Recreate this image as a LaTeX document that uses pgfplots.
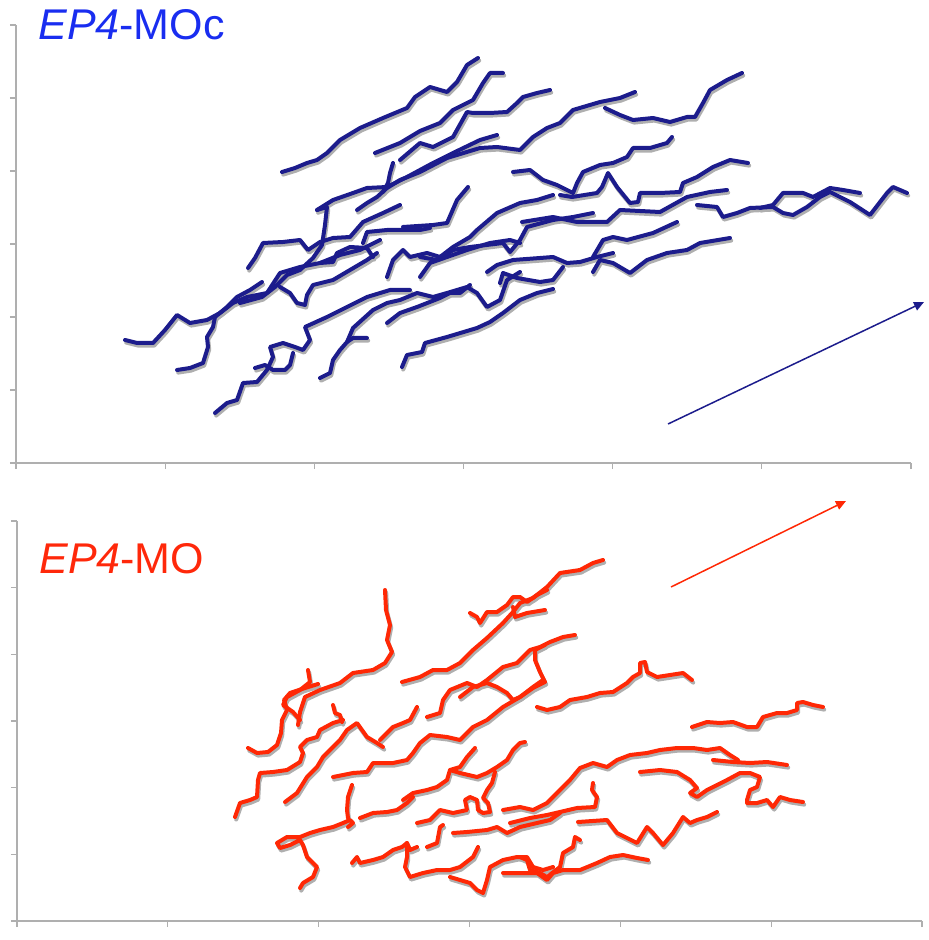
\documentclass[border=0pt]{standalone}
\usepackage{pgfplots}
\pgfplotsset{compat=1.18}
\usepackage{fontspec}
\newfontfamily\arial{Liberation Sans}
\usetikzlibrary{arrows.meta}
\definecolor{trkblue}{RGB}{28,28,140}
\definecolor{ttlblue}{RGB}{25,45,240}
\definecolor{trkred}{RGB}{255,40,5}
\definecolor{ttlred}{RGB}{255,40,10}
\definecolor{axgray}{RGB}{175,175,175}
\definecolor{shgray}{RGB}{175,175,175}

\newcommand\bluetracks{%
\trk{(282,172)(295,168)(307,163)(317,160)(327,153)(340,140)(360,128)(383,118)(407,108)(415,97)(430,87)(447,92)(457,82)(467,65)(478,58)}%
\trk{(375,153)(400,143)(420,131)(440,123)(453,110)(473,100)(483,83)(490,73)(503,73)}%
\trk{(400,160)(420,143)(433,147)(453,137)(467,112)(473,113)(490,113)(507,112)(517,103)(523,97)(537,93)(550,90)}%
\trk{(317,210)(333,200)(353,193)(367,188)(387,187)(407,177)(433,163)(453,153)(480,140)(497,135)}%
\trk{(357,210)(367,203)(377,197)(387,188)(400,180)(420,172)(447,158)(480,148)(497,147)(520,150)(533,137)(547,128)(560,123)(573,110)(600,102)(620,98)(635,92)}%
\trk{(383,192)(388,183)(390,173)(393,163)}%
\trk{(605,108)(620,115)(633,120)(653,118)(670,122)(687,117)(695,117)(703,103)(710,90)(727,80)(742,73)}%
\trk{(513,172)(530,170)(543,180)(557,185)(567,190)(573,193)(577,183)(583,172)(600,165)(613,163)(627,157)(633,148)(650,148)(667,143)(672,137)}%
\trk{(560,195)(572,197)(597,193)(602,187)(608,173)(617,187)(630,203)(638,202)(640,193)(660,193)(680,192)(683,183)(697,177)(713,167)(730,160)(748,163)}%
\trk{(697,205)(717,207)(723,217)(737,213)(750,208)(773,207)(783,213)(793,215)(807,207)(820,197)(830,192)(850,202)(870,215)(887,193)(893,187)(907,193)}%
\trk{(760,208)(773,205)(783,193)(803,193)(813,197)(830,188)(843,190)(860,193)}%
\trk{(403,227)(433,225)(447,223)(457,200)(468,187)}%
\trk{(420,257)(437,260)(453,250)(470,247)(503,243)(510,252)(520,240)(527,227)(553,220)(573,217)(593,213)}%
\trk{(440,257)(453,247)(470,237)(477,230)(497,213)(520,203)(537,200)(553,195)}%
\trk{(522,222)(553,217)(577,222)(607,222)(620,210)(660,212)(687,197)(710,192)(727,190)}%
\trk{(487,272)(497,265)(513,260)(540,258)(553,257)(567,263)(580,262)(597,257)(613,253)}%
\trk{(500,283)(503,273)(517,278)(540,282)(553,280)(563,267)}%
\trk{(593,272)(600,260)(613,263)(630,273)(647,260)(667,253)(687,250)(700,243)(730,238)}%
\trk{(593,257)(603,240)(613,237)(627,240)(653,233)(677,222)}%
\trk{(402,367)(407,355)(422,352)(425,343)(447,337)(477,328)(490,322)(503,313)(520,300)(537,293)(553,289)}%
\trk{(125,340)(137,343)(153,343)(165,330)(177,315)(190,323)(207,320)(220,313)(233,303)(247,297)(267,293)(280,273)(300,267)(320,263)(340,255)(360,250)(380,240)}%
\trk{(177,370)(190,368)(203,363)(208,347)(207,337)(213,327)(215,317)(227,307)(237,297)(250,290)(262,282)}%
\trk{(215,413)(227,403)(237,400)(243,383)(257,382)(267,370)(273,357)(270,347)(283,343)(295,347)(303,350)(310,340)(305,327)(327,317)(347,307)(367,297)(390,290)(410,290)}%
\trk{(293,353)(290,365)(285,370)(273,370)(265,365)(255,368)}%
\trk{(320,378)(330,373)(333,360)(340,350)(347,342)(353,328)(373,310)(387,303)(400,300)(417,293)(433,297)(447,293)(467,287)(477,293)(487,307)(500,300)(507,280)(520,272)}%
\trk{(347,342)(353,338)(367,338)}%
\trk{(387,323)(400,313)(417,307)(440,298)(450,293)(460,293)(470,285)}%
\trk{(248,268)(255,258)(263,243)(283,242)(300,240)(308,250)(320,242)(333,238)(350,237)(363,222)(383,213)(400,205)}%
\trk{(317,210)(327,207)(325,225)(322,245)(313,258)(300,270)(287,275)(275,287)(262,297)(240,303)}%
\trk{(280,287)(290,293)(297,303)(305,305)(307,295)(313,285)(333,280)(350,270)(367,260)(377,253)}%
\trk{(320,263)(333,262)(337,253)(350,247)(367,248)(373,257)}%
\trk{(420,277)(430,263)(447,257)(467,250)(490,243)(510,240)(520,243)}%
\trk{(387,277)(393,260)(403,250)(410,257)(427,253)(440,257)(453,250)}%
\trk{(363,243)(367,232)(387,230)(407,230)(420,230)(430,228)}%
}

\newcommand\redtracks{%
\trk{(385,590)(386,610)(390,625)(387,640)(392,652)(385,663)(373,670)(353,673)(340,683)(320,690)(305,697)(300,712)(298,725)}%
\trk{(308,670)(310,682)(300,690)(287,697)(283,705)(293,712)(300,720)}%
\trk{(248,748)(257,753)(268,752)(277,745)(281,733)(282,720)(287,710)(284,700)(290,693)(305,688)(318,684)}%
\trk{(235,817)(240,803)(250,800)(257,797)(258,780)(260,773)(273,772)(287,770)(300,762)(303,753)(300,747)(307,740)(317,737)(320,730)(333,723)(343,720)}%
\trk{(333,705)(335,713)(340,715)(342,722)}%
\trk{(285,802)(297,793)(307,777)(317,767)(323,757)(330,750)(340,740)(347,730)(357,723)(367,737)(377,743)(383,747)}%
\trk{(380,740)(393,727)(403,723)(410,720)(417,707)}%
\trk{(333,777)(353,773)(367,772)(373,763)(393,763)(407,760)(413,753)(420,743)(430,735)(447,737)(460,740)(467,733)(473,727)(487,720)(503,707)(520,697)(533,687)(543,680)}%
\trk{(402,682)(420,677)(433,670)(447,670)(460,663)(473,650)(487,638)(503,623)(513,612)(520,603)(533,598)(547,587)(560,573)(580,570)(593,563)(603,560)}%
\trk{(470,613)(477,617)(480,623)(487,612)(497,612)(507,605)(513,597)(520,597)(527,602)(537,595)(547,590)}%
\trk{(513,607)(515,617)(527,613)(545,610)}%
\trk{(427,717)(440,713)(443,700)(450,690)(467,683)(477,687)(487,680)(503,667)(517,663)(530,650)(540,647)(550,642)(563,637)(575,635)}%
\trk{(460,697)(473,687)(487,683)(497,687)(507,693)(513,700)(520,697)(533,688)(545,682)(540,672)(535,660)(535,650)(545,645)}%
\trk{(403,800)(413,793)(427,790)(437,787)(447,780)(450,770)(460,767)(467,757)(475,748)}%
\trk{(450,770)(460,773)(477,777)(487,773)(497,767)(507,760)(513,750)(520,743)(525,742)}%
\trk{(417,823)(430,820)(440,810)(453,813)(467,810)(465,800)(470,797)(477,800)(478,810)(483,813)(490,812)(488,803)(483,798)(487,790)(492,783)(495,772)}%
\trk{(360,818)(373,813)(387,812)(397,810)(407,803)(413,797)}%
\trk{(300,888)(303,883)(313,877)(317,867)(307,857)(303,845)(300,840)(290,845)(280,848)(277,843)(287,837)(300,837)(310,833)(320,830)(333,827)(343,823)(350,820)(353,823)(348,827)}%
\trk{(348,818)(347,810)(348,797)(352,785)}%
\trk{(352,863)(357,857)(360,863)(373,860)(383,857)(393,850)(402,847)(407,843)(410,850)(417,847)}%
\trk{(407,843)(407,857)(405,867)(410,877)(423,873)(437,870)(450,870)(460,867)(473,857)(478,847)}%
\trk{(427,847)(437,843)(440,827)(443,825)}%
\trk{(450,877)(460,880)(470,883)(477,890)(483,893)(487,880)(490,867)(503,860)(517,857)(527,857)(533,867)(543,870)(553,867)}%
\trk{(503,873)(520,873)(537,873)(547,880)(553,873)(563,870)(580,870)(597,863)(610,857)(623,855)(637,858)(648,860)}%
\trk{(537,707)(547,710)(560,707)(570,700)(587,697)(600,693)(613,692)(627,683)(633,677)(640,673)(640,663)(645,662)(647,672)(657,677)(670,675)(683,673)(692,680)}%
\trk{(692,727)(707,722)(720,723)(733,722)(747,727)(757,727)(763,717)(777,713)(787,713)(797,710)(797,703)(803,702)(813,705)(823,707)}%
\trk{(503,810)(520,807)(533,810)(547,803)(557,793)(570,780)(580,768)(593,763)(607,767)(617,760)(630,755)(647,753)(660,750)(677,748)(693,748)(707,750)(720,748)(730,755)(738,760)}%
\trk{(640,772)(660,770)(677,772)(690,780)(697,788)(690,793)(697,797)(707,790)(717,785)(727,780)(740,773)(750,773)(760,777)(757,787)(750,790)(747,800)(747,803)(757,803)(767,800)(773,807)(780,797)(790,800)(803,802)}%
\trk{(713,760)(733,762)(750,763)(767,762)(787,765)}%
\trk{(578,822)(607,820)(617,833)(637,843)(647,827)(653,833)(663,845)(673,833)(683,817)(690,823)(697,820)(707,817)(717,812)}%
\trk{(510,823)(530,818)(547,815)(577,808)(595,807)(597,797)(592,790)(593,783)}%
\trk{(520,857)(527,860)(530,870)(540,873)(547,877)(560,867)(563,853)(573,847)(575,837)(580,840)}%
\trk{(453,833)(467,832)(487,830)(497,827)(507,833)(520,827)(537,823)(550,820)(560,813)}%
}

\pgfplotsset{
  panel/.style={scale only axis, anchor=south west,
    y filter/.expression={-y},
    axis x line=bottom, axis y line=left,
    axis line style={-, draw=axgray, line width=0.75pt},
    tick style={draw=axgray, line width=0.6pt},
    tick align=outside, major tick length=3pt,
    xticklabels={}, yticklabels={}, clip=false},
  shadowsty/.style={draw=shgray, line width=2pt, line join=round, line cap=round, mark=none, xshift=0.6pt, yshift=-1.3pt},
  trksty/.style={line width=2pt, line join=round, line cap=round, mark=none},
}

\begin{document}
\begin{tikzpicture}
\useasboundingbox (0,0) rectangle (464.5pt,-470pt);
\begin{axis}[panel, at={(8pt,-231.5pt)}, width=447.5pt, height=219pt,
  xmin=16, xmax=911, ymin=-463, ymax=-25,
  xtick={16,165.2,314.3,463.5,612.7,761.8,911},
  ytick={-463,-390,-317,-244,-171,-98,-25}]
\def\trk#1{\addplot[shadowsty] coordinates {#1};}
\bluetracks
\def\trk#1{\addplot[trksty, draw=trkblue] coordinates {#1};}
\bluetracks
\addplot[draw=trkblue, line width=0.75pt, mark=none, -{Triangle[length=5pt,width=4.5pt]}] coordinates {(668,424)(924,302)};
\end{axis}
\begin{axis}[panel, at={(8.5pt,-460.5pt)}, width=452.5pt, height=200pt,
  xmin=17, xmax=922, ymin=-921, ymax=-521,
  xtick={17,167.8,318.7,469.5,620.3,771.2,922},
  ytick={-921,-854.3,-787.7,-721,-654.3,-587.7,-521}]
\def\trk#1{\addplot[shadowsty] coordinates {#1};}
\redtracks
\def\trk#1{\addplot[trksty, draw=trkred] coordinates {#1};}
\redtracks
\addplot[draw=trkred, line width=0.75pt, mark=none, -{Triangle[length=5pt,width=4.5pt]}] coordinates {(671,587)(846,501)};
\end{axis}
\node[anchor=base west, inner sep=0pt, text=ttlblue, font=\arial\fontsize{21.5}{24}\selectfont] at (19pt,-20pt) {\textit{EP4}-MOc};
\node[anchor=base west, inner sep=0pt, text=ttlred, font=\arial\fontsize{21.5}{24}\selectfont] at (19.5pt,-286.5pt) {\textit{EP4}-MO};
\end{tikzpicture}
\end{document}
